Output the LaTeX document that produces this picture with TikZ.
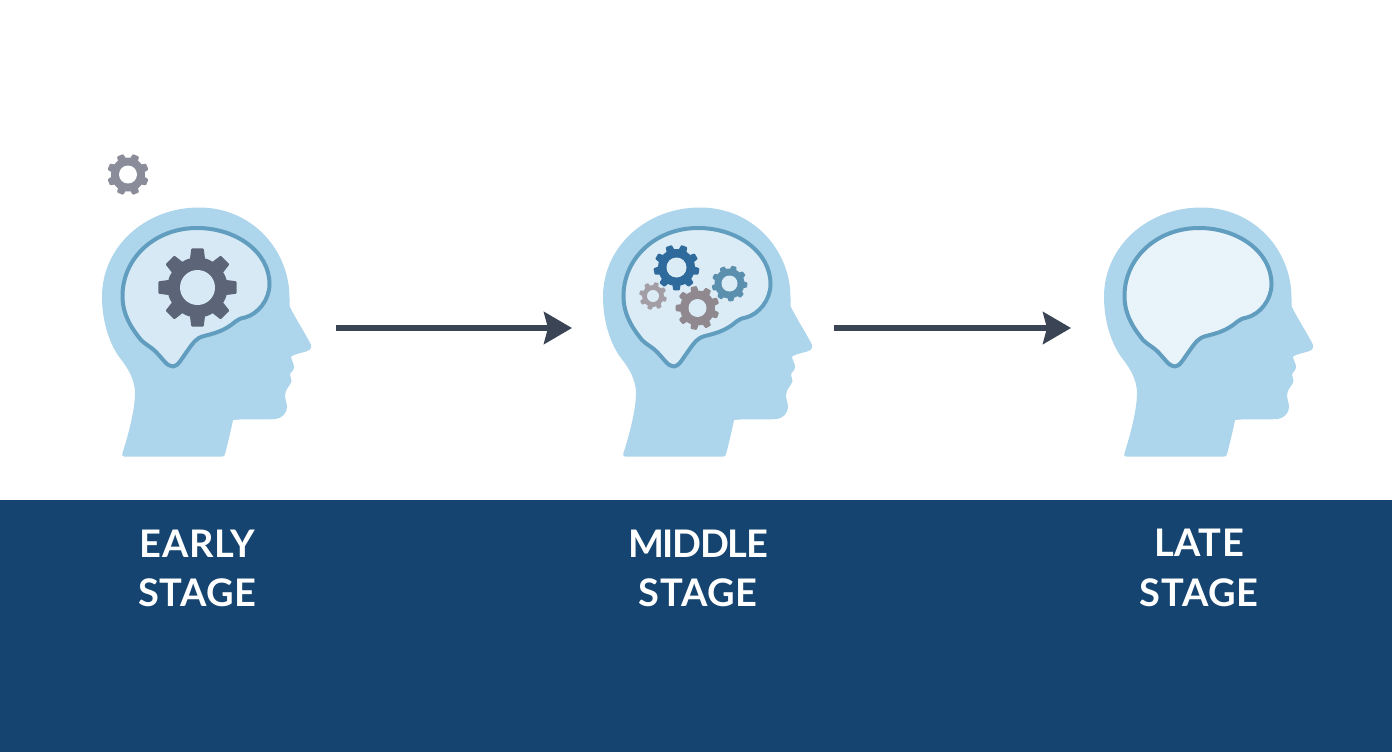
\documentclass[tikz,border=0pt]{standalone}
\usepackage{fontspec}
\setmainfont{Lato}
\newfontfamily\stagefont{Lato}[LetterSpace=1.5]
\usetikzlibrary{arrows.meta,calc}
\definecolor{headc}{HTML}{ADD5EB}
\definecolor{brainline}{HTML}{619DBF}
\definecolor{brainA}{HTML}{D6E9F5}
\definecolor{brainB}{HTML}{DCECF6}
\definecolor{brainC}{HTML}{E9F3FA}
\definecolor{band}{HTML}{14446F}
\definecolor{arrowc}{HTML}{3A4454}
\definecolor{gearDark}{HTML}{5C6577}
\definecolor{gearGrey}{HTML}{8A8D99}
\definecolor{gearBlue}{HTML}{2F6A9C}
\definecolor{gearTeal}{HTML}{5A8FAD}
\definecolor{gearTaupe}{HTML}{8F898F}
\definecolor{gearSmall}{HTML}{A39EA5}
\tikzset{
  stagelabel/.style={text=white,align=center,font=\stagefont\fontsize{38}{49.5}\selectfont\bfseries,inner sep=0pt},
  flowarrow/.style={arrowc,line width=5.5pt,-{Stealth[length=28pt,width=32pt,inset=4pt]}},
}
% \gearicon{x}{y}{outer R}{body R}{hole R}{teeth}{rotation}{colour}{hole colour}
\newcommand{\gearicon}[9]{%
  \fill[#8] (#1,#2) circle (#4);
  \pgfmathsetmacro{\gstep}{360/#6}
  \pgfmathsetmacro{\ghalfo}{0.2*360/#6}
  \pgfmathsetmacro{\ghalfi}{0.33*360/#6}
  \foreach \gi in {1,...,#6}{
    \pgfmathsetmacro{\ga}{#7+\gi*\gstep}
    \fill[#8,rounded corners=0.8pt]
      ($(#1,#2)+(\ga-\ghalfi:#4-0.5)$) -- ($(#1,#2)+(\ga-\ghalfo:#3)$) --
      ($(#1,#2)+(\ga+\ghalfo:#3)$) -- ($(#1,#2)+(\ga+\ghalfi:#4-0.5)$) -- cycle;
  }
  \fill[#9] (#1,#2) circle (#5);
}
\newcommand{\headicon}[2]{%
  \begin{scope}[xshift=#1pt]
  \fill[headc] (124,456.5)
    .. controls (122,456.5) and (122,455) .. (122.5,453)
    .. controls (128,436) and (135,410) .. (135,393)
    .. controls (135,380) and (128,368) .. (120,358)
    .. controls (110,345) and (102,322) .. (102,297)
    .. controls (102,246) and (146,207.5) .. (199,207.5)
    .. controls (252,207.5) and (289.5,250) .. (289.5,298)
    -- (289.5,306)
    .. controls (294,316) and (302,328) .. (309,341)
    .. controls (312.5,346) and (312,350) .. (306,351.5)
    .. controls (301,353) and (295,354) .. (291,356.5)
    .. controls (291,360) and (294,363) .. (294,367)
    .. controls (294,371) and (290,372) .. (290,375)
    .. controls (290,378) and (292,379) .. (291.5,381)
    .. controls (291,385) and (285,389) .. (285,395)
    .. controls (285,399) and (287,403) .. (287,407)
    .. controls (287,413) and (282,418) .. (276,419)
    .. controls (262,420) and (245,418.5) .. (233,420)
    .. controls (231,430) and (227,447) .. (225,454)
    .. controls (224.5,456) and (224,456.5) .. (222,456.5)
    -- cycle;
  \filldraw[fill=#2,draw=brainline,line width=4pt,line join=round]
    (122.5,296)
    .. controls (122.5,258) and (155,228) .. (197,228)
    .. controls (236,228) and (269.5,252) .. (269.5,284)
    .. controls (269.5,300) and (258,314) .. (245,317.5)
    .. controls (236,319) and (235,323) .. (228,327)
    .. controls (220,332) and (212,334) .. (204,336)
    .. controls (196,338) and (193,343) .. (188,350)
    .. controls (182,358) and (178,366.5) .. (173,366.5)
    .. controls (167,366.5) and (163,359) .. (156,352)
    .. controls (150,346) and (146,345) .. (141,340)
    .. controls (133,330) and (122.5,316) .. (122.5,296)
    -- cycle;
  \end{scope}
}
\begin{document}
\begin{tikzpicture}[x=1pt,y=-1pt]
\useasboundingbox (0,0) rectangle (1392,752);
\fill[white] (0,0) rectangle (1392,752);
\fill[band] (0,499.5) rectangle (1392,752);
\headicon{0}{brainA}
\headicon{501}{brainB}
\headicon{1002}{brainC}
% gears, early stage
\gearicon{128}{174.5}{21}{17}{9}{8}{22.5}{gearGrey}{white}
\gearicon{197.5}{287.5}{39.5}{30}{17.5}{8}{0}{gearDark}{brainA}
% gears, middle stage
\gearicon{676.5}{267.5}{23}{18.5}{10}{9}{10}{gearBlue}{brainB}
\gearicon{729.5}{283.5}{18}{15}{8}{9}{5}{gearTeal}{brainB}
\gearicon{697.5}{308}{22}{17.5}{9}{9}{20}{gearTaupe}{brainB}
\gearicon{653}{296}{14}{11}{6}{8}{15}{gearSmall}{brainB}
% arrows
\coordinate (a1s) at (336,328);
\coordinate (a1e) at (572,328);
\coordinate (a2s) at (834,328);
\coordinate (a2e) at (1071,328);
\draw[flowarrow] (a1s) -- (a1e);
\draw[flowarrow] (a2s) -- (a2e);
% labels
\node[stagelabel] (early) at (197.5,568.5) {EARLY\\STAGE};
\node[stagelabel] (middle) at (698,568.5) {M\kern-1.4pt I\kern-1.4pt D\kern-1.4pt D\kern-1.4pt L\kern-1.4pt E\\STAGE};
\node[stagelabel] (late) at (1199,568) {LATE\\STAGE};
\end{tikzpicture}
\end{document}
